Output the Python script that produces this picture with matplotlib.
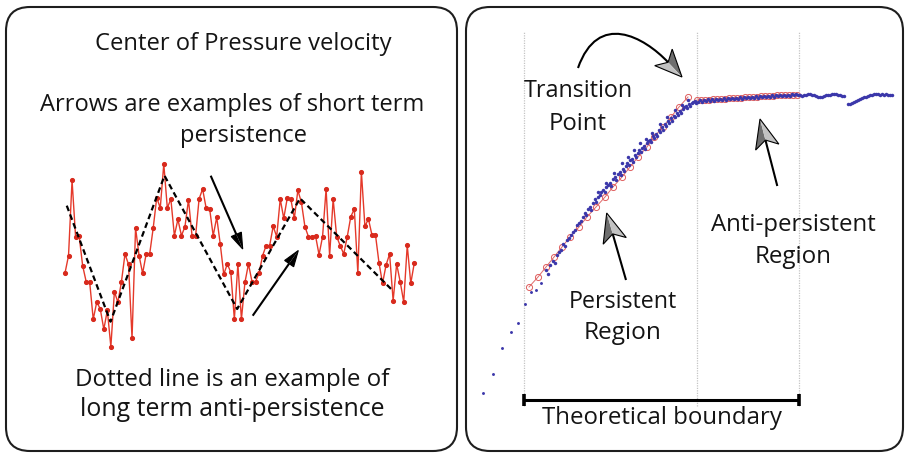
import matplotlib
matplotlib.use("Agg")
import matplotlib.pyplot as plt
from matplotlib.patches import FancyBboxPatch, Polygon, PathPatch
from matplotlib.path import Path
import numpy as np

# ---------------- data ----------------
# left panel: centre-of-pressure velocity samples (arbitrary units)
cop_velocity = [22.8, 28.0, 50.6, 33.7, 34.0, 25.0, 20.2, 20.0, 8.9, 14.1,
                12.0, 5.9, 11.6, 0.7, 17.2, 14.0, 20.2, 28.5, 25.4, 3.2,
                36.3, 28.0, 22.7, 28.5, 28.5, 36.3, 45.4, 42.3, 55.5, 42.3,
                45.0, 34.0, 38.9, 34.0, 36.7, 44.8, 34.0, 33.8, 45.0, 48.0,
                42.3, 42.0, 34.0, 39.5, 31.5, 22.4, 25.5, 23.0, 8.9, 25.5,
                8.9, 20.0, 25.5, 20.2, 20.2, 22.8, 28.0, 31.0, 31.0, 36.8,
                33.7, 45.0, 39.2, 45.3, 45.0, 39.2, 47.6, 44.0, 36.7, 33.7,
                33.7, 34.0, 28.3, 33.7, 48.0, 28.0, 45.0, 33.7, 31.0, 28.5,
                33.7, 39.7, 42.0, 22.8, 53.2, 36.8, 39.0, 34.2, 34.2, 25.8,
                19.7, 25.2, 28.5, 14.5, 25.5, 20.2, 14.1, 31.1, 19.7, 25.8]
trend_idx = [0.5, 12.9, 28.2, 48.8, 66.6, 92.9]
trend_val = [43.0, 8.2, 52.0, 12.0, 45.2, 17.5]

# right panel: diffusion plot (log time lag vs log mean squared displacement)
early_dt = [0.13, 0.23, 0.32, 0.41, 0.48, 0.55, 0.61, 0.66, 0.71]
early_msd = [0.26, 0.45, 0.71, 0.87, 0.96, 1.15, 1.27, 1.29, 1.36]

ramp_dt = [0.76, 0.78, 0.80, 0.83, 0.85, 0.87, 0.89, 0.91, 0.93, 0.95,
           0.97, 0.99, 1.01, 1.03, 1.05, 1.07, 1.09, 1.11, 1.13, 1.15,
           1.16, 1.18, 1.20, 1.21, 1.23, 1.25, 1.26, 1.28, 1.30, 1.31,
           1.33, 1.35, 1.36, 1.38, 1.40, 1.41, 1.43, 1.45, 1.46, 1.48,
           1.50, 1.51, 1.53, 1.54, 1.56, 1.57, 1.59, 1.60, 1.62, 1.63,
           1.65, 1.66, 1.68, 1.69, 1.71, 1.72, 1.74, 1.75, 1.77, 1.78,
           1.80, 1.81, 1.83, 1.84, 1.86, 1.87, 1.89, 1.90, 1.92, 1.93,
           1.95, 1.96, 1.98, 1.99, 2.01, 2.02, 2.04, 2.05, 2.07, 2.08,
           2.10, 2.11, 2.13, 2.14, 2.16, 2.17, 2.19, 2.20, 2.22, 2.23,
           2.25, 2.26]
ramp_msd = [1.49, 1.45, 1.54, 1.58, 1.56, 1.64, 1.67, 1.69, 1.75, 1.73,
            1.79, 1.81, 1.84, 1.87, 1.89, 1.94, 1.96, 1.98, 2.02, 2.06,
            2.04, 2.10, 2.12, 2.09, 2.16, 2.20, 2.17, 2.22, 2.24, 2.27,
            2.29, 2.27, 2.32, 2.34, 2.36, 2.33, 2.40, 2.42, 2.39, 2.45,
            2.47, 2.44, 2.50, 2.48, 2.53, 2.56, 2.54, 2.59, 2.60, 2.57,
            2.64, 2.62, 2.66, 2.69, 2.67, 2.71, 2.73, 2.70, 2.76, 2.78,
            2.79, 2.77, 2.83, 2.81, 2.85, 2.83, 2.89, 2.87, 2.92, 2.89,
            2.95, 2.93, 2.98, 2.96, 3.01, 2.98, 3.03, 3.02, 3.06, 3.04,
            3.08, 3.06, 3.10, 3.12, 3.13, 3.11, 3.15, 3.13, 3.16, 3.17,
            3.18, 3.16]
# a few scattered trials lying off the main ramp
ramp_extra_dt = [1.28, 1.36, 1.44, 1.52, 1.58, 1.64, 1.70, 1.76, 1.82, 1.90, 1.97, 2.05, 2.12, 2.18]
ramp_extra_msd = [2.27, 2.36, 2.46, 2.56, 2.62, 2.69, 2.76, 2.80, 2.86, 2.95, 3.02, 3.09, 3.14, 3.19]

plateau_dt = [2.28, 2.30, 2.32, 2.34, 2.36, 2.38, 2.40, 2.42, 2.44, 2.46,
              2.48, 2.50, 2.52, 2.54, 2.56, 2.58, 2.60, 2.62, 2.64, 2.66,
              2.68, 2.70, 2.72, 2.74, 2.76, 2.78, 2.80, 2.82, 2.84, 2.86,
              2.88, 2.90, 2.92, 2.94, 2.96, 2.98, 3.00, 3.02, 3.04, 3.06,
              3.08, 3.10, 3.12, 3.14, 3.16, 3.18, 3.20, 3.22, 3.24, 3.26,
              3.28, 3.30, 3.32, 3.34, 3.36, 3.38, 3.40, 3.42, 3.44, 3.46,
              3.48, 3.50, 3.52, 3.54, 3.56, 3.58, 3.60, 3.62, 3.64, 3.66,
              3.68, 3.70, 3.72, 3.74]
plateau_msd = [3.170, 3.190, 3.175, 3.195, 3.180, 3.200, 3.185, 3.200, 3.180, 3.200,
               3.190, 3.205, 3.190, 3.210, 3.195, 3.210, 3.200, 3.215, 3.200, 3.215,
               3.205, 3.220, 3.205, 3.220, 3.210, 3.225, 3.210, 3.225, 3.215, 3.230,
               3.215, 3.230, 3.220, 3.235, 3.220, 3.235, 3.225, 3.240, 3.225, 3.240,
               3.230, 3.245, 3.230, 3.245, 3.235, 3.245, 3.235, 3.250, 3.240, 3.250,
               3.245, 3.240, 3.235, 3.240, 3.245, 3.250, 3.250, 3.245, 3.240, 3.230,
               3.225, 3.220, 3.220, 3.230, 3.240, 3.245, 3.245, 3.250, 3.250, 3.250,
               3.245, 3.240, 3.235, 3.230]
tail_dt = [3.78, 3.80, 3.82, 3.84, 3.86, 3.88, 3.90, 3.92, 3.94, 3.96,
           3.98, 4.00, 4.02, 4.04, 4.06, 4.08, 4.10, 4.12, 4.14, 4.16,
           4.18, 4.20, 4.22]
tail_msd = [3.150, 3.155, 3.165, 3.175, 3.185, 3.190, 3.200, 3.210, 3.220, 3.225,
            3.235, 3.240, 3.245, 3.250, 3.250, 3.250, 3.245, 3.250, 3.245, 3.250,
            3.245, 3.245, 3.240]

fit_short_dt = [0.59, 0.68, 0.76, 0.84, 0.92, 1.00, 1.09, 1.17, 1.26, 1.35,
                1.43, 1.52, 1.60, 1.68, 1.77, 1.84, 1.93, 2.01, 2.09, 2.18]
fit_short_msd = [1.32, 1.42, 1.52, 1.62, 1.72, 1.82, 1.92, 2.02, 2.12, 2.22,
                 2.32, 2.42, 2.52, 2.62, 2.72, 2.82, 2.92, 3.02, 3.12, 3.22]
fit_long_dt = [2.27, 2.31, 2.35, 2.39, 2.43, 2.47, 2.51, 2.55, 2.59, 2.63,
               2.67, 2.71, 2.75, 2.79, 2.83, 2.87, 2.91, 2.95, 2.99, 3.03,
               3.07, 3.11, 3.15, 3.19, 3.23, 3.27]
fit_long_msd = [3.190, 3.190, 3.195, 3.195, 3.200, 3.200, 3.205, 3.205, 3.210, 3.210,
                3.215, 3.215, 3.220, 3.220, 3.225, 3.225, 3.230, 3.230, 3.235, 3.235,
                3.240, 3.240, 3.240, 3.245, 3.245, 3.245]

boundaries = [0.54, 2.27, 3.29]   # start, transition, end of theoretical boundary

for a, b in [(early_dt, early_msd), (ramp_dt, ramp_msd), (ramp_extra_dt, ramp_extra_msd),
             (plateau_dt, plateau_msd), (tail_dt, tail_msd),
             (fit_short_dt, fit_short_msd), (fit_long_dt, fit_long_msd)]:
    assert len(a) == len(b)
assert len(cop_velocity) == 100

# ---------------- figure ----------------
W, H = 906, 456
fig = plt.figure(figsize=(W / 100, H / 100), dpi=100)
FONT = ["Open Sans", "DejaVu Sans"]


def px_axes(x0, x1, y0, y1, z=1):
    ax = fig.add_axes([x0 / W, (H - y1) / H, (x1 - x0) / W, (y1 - y0) / H], zorder=z)
    ax.axis("off")
    ax.patch.set_alpha(0)
    return ax


# left time series
axL = px_axes(65, 414.3, 150, 350)
idx = np.arange(len(cop_velocity))
axL.plot(idx, cop_velocity, color="#e5392a", lw=1.0, marker="o", ms=2.7,
         mfc="#d82a1d", mec="#d82a1d", clip_on=False, zorder=2)
axL.plot(trend_idx, trend_val, color="black", lw=1.6, dashes=[2.6, 1.6],
         clip_on=False, zorder=3)
axL.set_xlim(0, len(cop_velocity) - 1)
axL.set_ylim(0, 60)

# right diffusion plot
axR = px_axes(470, 900, 20, 420)
axR.set_xlim(0, 4.3)
axR.set_ylim(0, 4.0)
axR.vlines(boundaries, 0.13, 3.88, colors="#c4c4c4", lw=0.9, linestyles=(0, (1, 1)), zorder=1)
blue = "#3b37aa"
axR.plot(fit_short_dt, fit_short_msd, color="#e06a6a", lw=0.7, marker="o", ms=4.4,
         mfc="none", mec="#df5e5e", mew=0.7, zorder=2)
axR.plot(fit_long_dt, fit_long_msd, color="#e06a6a", lw=0.7, marker="o", ms=4.4,
         mfc="none", mec="#df5e5e", mew=0.7, zorder=2)
axR.plot(early_dt, early_msd, ls="none", marker="o", ms=2.1, mfc=blue, mec="none", zorder=3)
for xs, ys in [(ramp_dt, ramp_msd), (ramp_extra_dt, ramp_extra_msd),
               (plateau_dt, plateau_msd), (tail_dt, tail_msd)]:
    axR.plot(xs, ys, ls="none", marker="o", ms=2.5, mfc=blue, mec="none", zorder=3)
# theoretical boundary bracket
axR.hlines(0.19, boundaries[0], boundaries[-1], colors="black", lw=2.2, zorder=4)
axR.vlines([boundaries[0], boundaries[-1]], 0.13, 0.25, colors="black", lw=2.6, zorder=4)

# overlay in pixel space for boxes, arrows and labels
ov = fig.add_axes([0, 0, 1, 1], zorder=10)
ov.set_xlim(0, W)
ov.set_ylim(H, 0)
ov.axis("off")
ov.patch.set_alpha(0)

for (x0, w) in [(6, 451), (466, 437)]:
    ov.add_patch(FancyBboxPatch((x0, 8), w, 444, boxstyle="round,pad=0,rounding_size=24",
                                fc="none", ec="#1e1e1e", lw=1.5))


def arrow_head(tip, u, length, width, notch, dark, light, edge="black"):
    u = np.asarray(u, float)
    u = u / np.hypot(*u)
    n = np.array([-u[1], u[0]])
    tip = np.asarray(tip, float)
    base = tip - length * u
    wa = base - n * width / 2
    wb = base + n * width / 2
    nt = tip - length * (1 - notch) * u
    ov.add_patch(Polygon([tip, wa, nt], closed=True, fc=dark, ec="none", zorder=6))
    ov.add_patch(Polygon([tip, nt, wb], closed=True, fc=light, ec="none", zorder=6))
    ov.add_patch(Polygon([tip, wa, nt, wb], closed=True, fc="none", ec=edge, lw=0.8, zorder=7))
    return nt


def straight_arrow(tail, tip, length, width, notch, dark, light, lw=1.5):
    tail = np.asarray(tail, float)
    tip = np.asarray(tip, float)
    nt = arrow_head(tip, tip - tail, length, width, notch, dark, light)
    ov.plot([tail[0], nt[0]], [tail[1], nt[1]], color="black", lw=lw,
            solid_capstyle="butt", zorder=5)


# left panel arrows (short-term persistence)
straight_arrow((210.7, 176.7), (242.7, 250), 16, 11, 0.0, "black", "black")
straight_arrow((252.7, 316.7), (298.3, 251.5), 16, 11, 0.0, "black", "black")

# right panel arrows
straight_arrow((626, 281), (606.7, 214), 29, 24, 0.25, "#6e6e6e", "#c2c2c2")
straight_arrow((777.3, 187), (760, 120), 29, 24, 0.25, "#6e6e6e", "#c2c2c2")
tip = np.array([682.0, 78.0])
u = np.array([0.69, 0.73])
u = u / np.hypot(*u)
nt = arrow_head(tip, u, 27, 24, 0.25, "#6e6e6e", "#c2c2c2")
p2 = nt - 35 * u
path = Path([(578, 69), (598, 12), tuple(p2), tuple(nt)],
            [Path.MOVETO, Path.CURVE4, Path.CURVE4, Path.CURVE4])
ov.add_patch(PathPatch(path, fc="none", ec="black", lw=1.5, zorder=5))

# labels, each sized to match its width in the reference (None: same size as previous)
labels = [
    ("Center of Pressure velocity", 243, 50, 296),
    ("Arrows are examples of short term", 232.5, 111, 385),
    ("persistence", 243, 142, None),
    ("Dotted line is an example of", 232.5, 386, 315),
    ("long term anti-persistence", 232.5, 416, 305),
    ("Transition", 578, 97, 110),
    ("Point", 578, 130, 58),
    ("Persistent", 622.5, 308, 109),
    ("Region", 623, 339, 78),
    ("Anti-persistent", 793.5, 231, 165),
    ("Region", 793.5, 263, 77),
    ("Theoretical boundary", 662, 424, 240),
]
renderer = fig.canvas.get_renderer()
prev = 16
for s, cx, by, tw in labels:
    t = ov.text(cx, by, s, ha="center", va="baseline", fontsize=16, family=FONT,
                color="#141414", zorder=8)
    if tw is None:
        t.set_fontsize(prev)
    else:
        w = t.get_window_extent(renderer).width
        prev = 16 * tw / w
        t.set_fontsize(prev)

fig.savefig("out.png", dpi=100)
